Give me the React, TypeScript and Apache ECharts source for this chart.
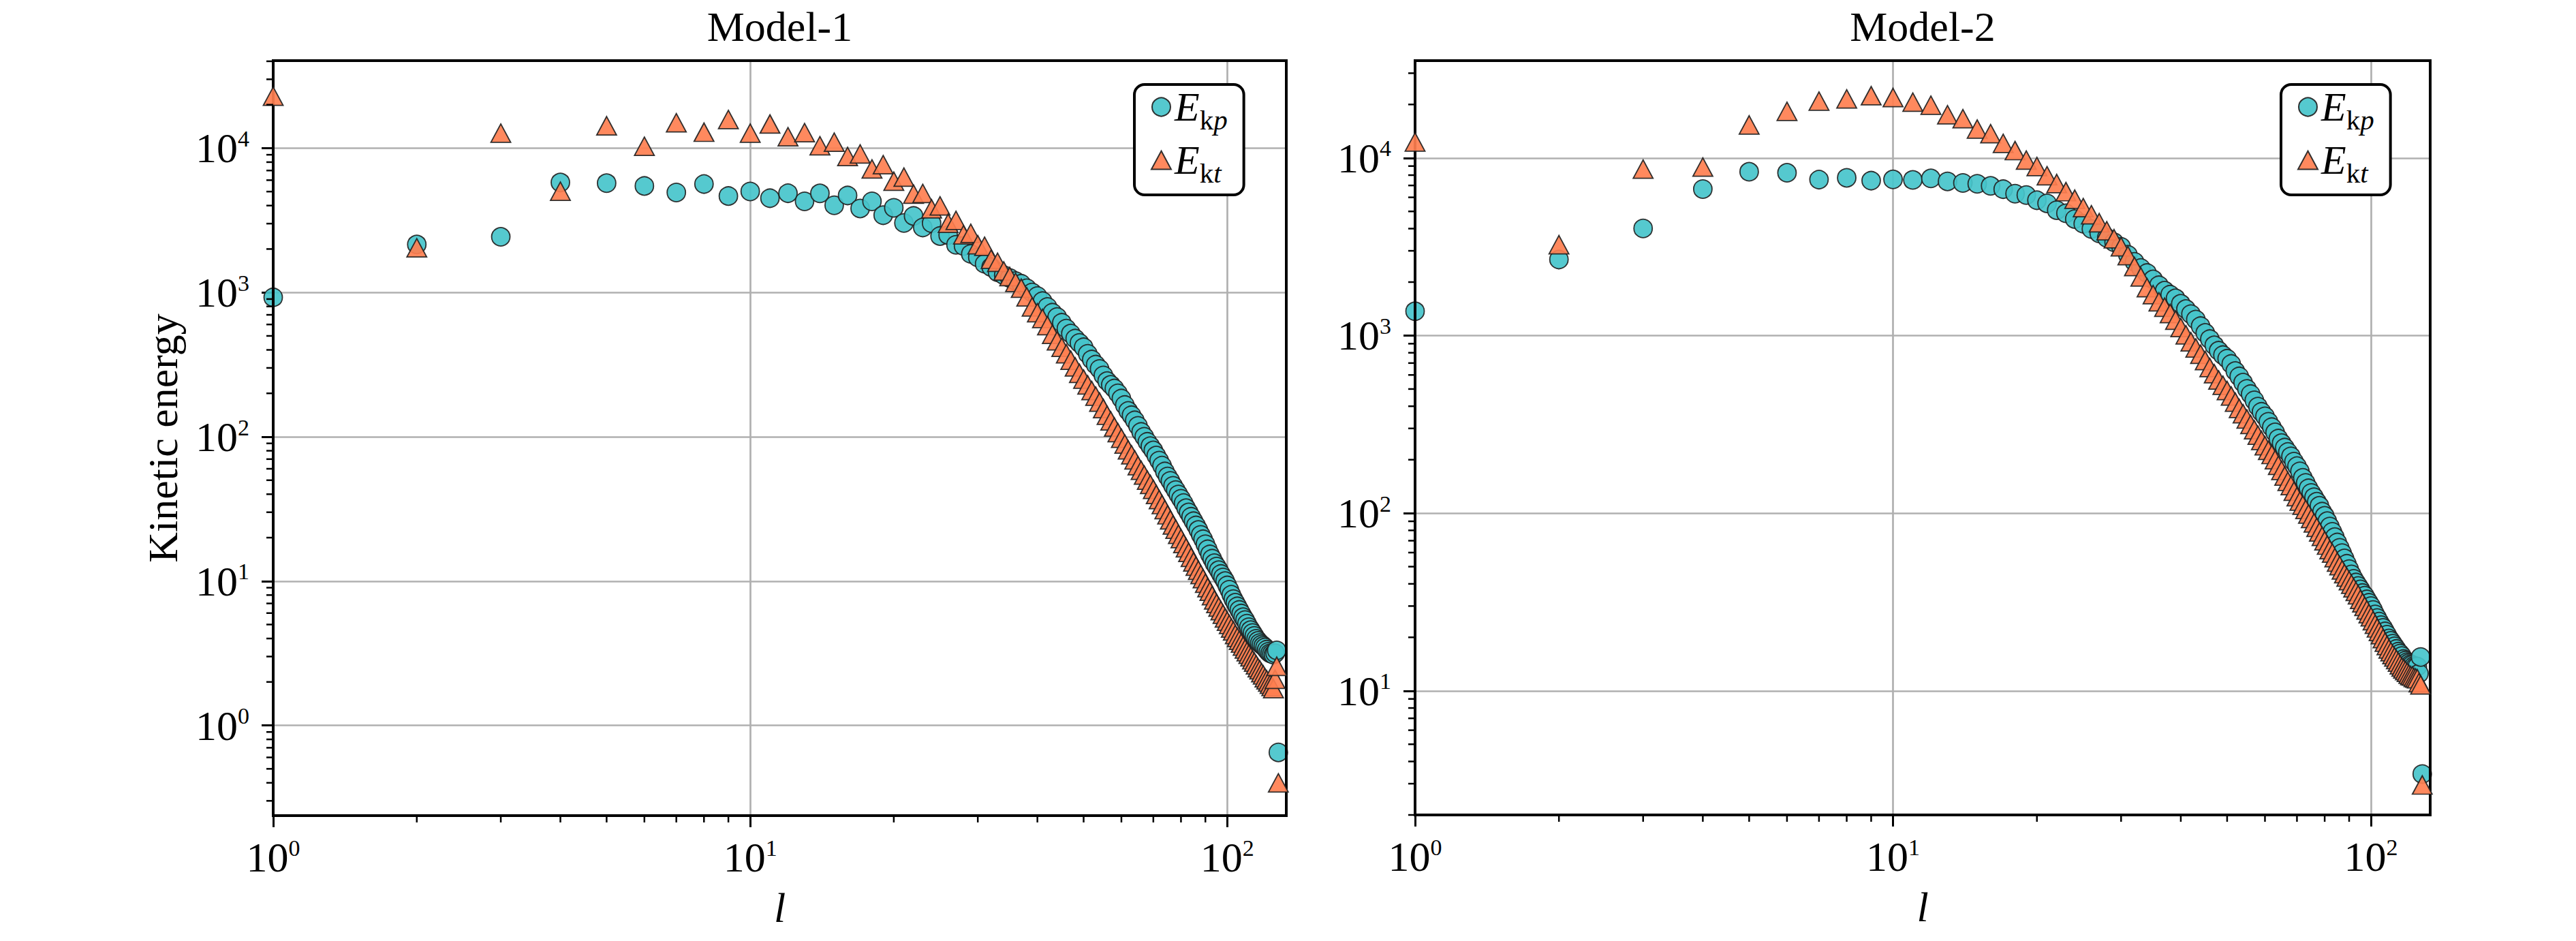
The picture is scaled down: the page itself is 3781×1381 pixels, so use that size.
import { useEffect, useRef } from 'react';
import * as echarts from 'echarts';

const FONT = '"Liberation Serif", "Times New Roman", serif';
const TEAL = '#47c4cb';
const CORAL = '#ff7f50';
const GRID_COLOR = '#b0b0b0';

// spherical harmonic degree l = 1..128
const degrees = Array.from({ length: 128 }, (_, i) => i + 1);

const panelTitles = ['Model-1', 'Model-2'];
const seriesNames = ['Ekp', 'Ekt'];

// one value per degree
const model1Ekp = [
  925, 2150, 2430, 5780, 5720, 5470, 4930, 5640, 4660, 5010,
  4500, 4870, 4280, 4860, 4020, 4700, 3820, 4280, 3430, 3860,
  3030, 3390, 2820, 3020, 2460, 2500, 2140, 2100, 1850, 1750,
  1580, 1500, 1380, 1320, 1260, 1200, 1150, 1070, 1000, 944,
  871, 794, 724, 676, 617, 562, 519, 479, 447, 417,
  376, 343, 316, 295, 266, 243, 229, 216, 200, 184,
  166, 151, 141, 130, 119, 108, 100, 92.3, 86.1, 80.4,
  74.1, 68.4, 63.1, 57.5, 53.1, 49.5, 45.7, 42.7, 39.8, 37.2,
  34.7, 32.0, 29.9, 27.9, 26.0, 24.3, 22.6, 20.9, 19.5, 18.0,
  16.6, 15.3, 14.3, 13.3, 12.6, 11.9, 11.2, 10.6, 10.0, 9.33,
  8.71, 8.04, 7.5, 7.08, 6.68, 6.31, 5.96, 5.62, 5.37, 5.07,
  4.79, 4.57, 4.37, 4.17, 3.98, 3.85, 3.72, 3.63, 3.55, 3.47,
  3.35, 3.24, 3.16, 3.13, 3.09, 3.16, 3.31, 0.65,
];

const model1Ekt = [
  22900, 2040, 12700, 5030, 14300, 10300, 15000, 12900, 15800, 12700,
  14700, 12000, 12800, 10400, 11000, 8750, 9120, 7180, 7690, 5900,
  6300, 4800, 4850, 3800, 3980, 3020, 3160, 2510, 2570, 2140,
  2090, 1700, 1620, 1410, 1290, 1175, 1070, 933, 794, 724,
  661, 589, 513, 462, 417, 376, 339, 305, 275, 251,
  229, 209, 191, 174, 157, 141, 129, 117, 107, 97.7,
  89.1, 81.3, 75.0, 69.2, 63.1, 58.6, 54.3, 50.1, 46.8, 43.2,
  39.8, 36.7, 33.9, 31.3, 28.8, 26.6, 24.5, 22.9, 21.1, 19.7,
  18.2, 17.0, 15.8, 14.6, 13.6, 12.7, 11.9, 11.1, 10.4, 9.66,
  9.02, 8.51, 7.94, 7.41, 7.0, 6.61, 6.24, 5.89, 5.56, 5.28,
  5.01, 4.73, 4.52, 4.27, 4.07, 3.89, 3.72, 3.55, 3.39, 3.24,
  3.11, 2.99, 2.85, 2.75, 2.63, 2.51, 2.43, 2.32, 2.24, 2.14,
  2.07, 2.0, 1.93, 1.86, 1.8, 2.09, 2.57, 0.4,
];

const model2Ekp = [
  1370, 2680, 4010, 6680, 8360, 8250, 7550, 7730, 7450, 7570,
  7520, 7670, 7380, 7230, 7150, 6960, 6670, 6290, 6180, 5780,
  5550, 5080, 4880, 4530, 4260, 3980, 3760, 3550, 3350, 3160,
  2850, 2600, 2400, 2250, 2070, 1920, 1790, 1700, 1620, 1510,
  1410, 1320, 1230, 1130, 1035, 955, 881, 822, 776, 741,
  692, 631, 589, 543, 501, 468, 432, 398, 372, 351,
  327, 305, 285, 263, 248, 234, 221, 209, 195, 184,
  172, 158, 148, 138, 130, 123, 116, 110, 102, 96.6,
  90.2, 84.1, 78.5, 73.3, 68.4, 63.8, 59.6, 55.6, 51.9, 48.4,
  45.2, 42.7, 40.7, 38.9, 37.2, 35.5, 34.3, 32.7, 31.3, 30.0,
  28.5, 26.9, 25.7, 24.5, 23.4, 22.6, 21.6, 20.7, 19.7, 19.1,
  18.4, 17.8, 17.2, 16.6, 16.2, 15.7, 15.1, 14.8, 14.5, 14.3,
  14.1, 14.0, 13.8, 13.7, 13.7, 12.5, 15.5, 3.4,
];

const model2Ekt = [
  12300, 3250, 8650, 8890, 15350, 18300, 20900, 21500, 22400, 21900,
  20600, 19800, 17500, 16650, 14550, 13700, 12080, 11000, 9730, 8940,
  7940, 7180, 6460, 5860, 5250, 4790, 4320, 3890, 3510, 3160,
  2820, 2450, 2140, 1860, 1700, 1550, 1445, 1330, 1220, 1110,
  1010, 923, 851, 785, 724, 661, 610, 562, 525, 490,
  457, 422, 389, 363, 339, 316, 295, 275, 257, 240,
  226, 214, 200, 186, 174, 162, 151, 143, 133, 124,
  117, 111, 105, 98.9, 93.3, 88.1, 83.2, 78.5, 74.1, 70.0,
  66.1, 62.4, 59.6, 56.2, 53.1, 50.7, 47.9, 45.7, 43.7, 41.7,
  39.8, 38.0, 36.3, 34.7, 32.7, 31.3, 29.9, 28.5, 27.2, 26.1,
  24.8, 23.7, 22.6, 21.6, 20.7, 19.7, 18.8, 18.0, 17.2, 16.6,
  16.0, 15.5, 15.0, 14.5, 14.0, 13.6, 13.3, 13.0, 12.7, 12.4,
  12.2, 12.1, 11.9, 11.8, 11.7, 11.1, 10.8, 2.95,
];

// axis ranges and decade ticks
const X_MIN = 1;
const X_MAX = 133;
const xMajorTicks = [1, 10, 100];
const yRanges = [
  [0.237, 40400],
  [2.0, 35300],
];
const yMajorTicks = [
  [1, 10, 100, 1000, 10000],
  [10, 100, 1000, 10000],
];

const grids = [
  { left: 401, top: 89, width: 1487, height: 1108 },
  { left: 2077, top: 89, width: 1490, height: 1107 },
];

const MAJOR_LEN = 17;
const MINOR_LEN = 10;

function minorTicks(min: number, max: number) {
  const out: number[] = [];
  for (let k = Math.floor(Math.log10(min)) - 1; k <= Math.ceil(Math.log10(max)); k++) {
    for (let m = 2; m <= 9; m++) {
      const v = m * Math.pow(10, k);
      if (v >= min && v <= max) out.push(v);
    }
  }
  return out;
}

const powerLabel = (value: number) => `{b|10}{s|${Math.round(Math.log10(value))}}`;
const powerRich = {
  b: { fontFamily: FONT, fontSize: 62, color: '#000' },
  s: { fontFamily: FONT, fontSize: 34, color: '#000', verticalAlign: 'top' },
};

const legendRich = {
  e: { fontFamily: FONT, fontStyle: 'italic', fontSize: 60, color: '#000' },
  s: { fontFamily: FONT, fontSize: 41, color: '#000', verticalAlign: 'top', padding: [37, 0, 0, 0] },
  i: { fontFamily: FONT, fontStyle: 'italic', fontSize: 41, color: '#000', verticalAlign: 'top', padding: [37, 0, 0, 0] },
};

export default function App() {
  const chartRef = useRef<HTMLDivElement>(null);

  useEffect(() => {
    if (!chartRef.current) return;
    const chart = echarts.init(chartRef.current, undefined, { renderer: 'svg' });

    const models = [
      [model1Ekp, model1Ekt],
      [model2Ekp, model2Ekt],
    ];

    const xAxes = grids.map((_, i) => ({
      type: 'log',
      logBase: 10,
      gridIndex: i,
      min: X_MIN,
      max: X_MAX,
      name: 'l',
      nameLocation: 'middle',
      nameGap: 104,
      nameTextStyle: { fontFamily: FONT, fontStyle: 'italic', fontSize: 62, color: '#000' },
      axisLine: { show: false },
      axisTick: {
        show: true,
        length: MAJOR_LEN,
        customValues: xMajorTicks,
        lineStyle: { color: '#000', width: 3 },
      },
      axisLabel: {
        customValues: xMajorTicks,
        margin: 30,
        formatter: powerLabel,
        rich: powerRich,
      },
      splitLine: { show: true, lineStyle: { color: GRID_COLOR, width: 2.7 } },
    }));

    const yAxes = grids.map((_, i) => ({
      type: 'log',
      logBase: 10,
      gridIndex: i,
      min: yRanges[i][0],
      max: yRanges[i][1],
      name: i === 0 ? 'Kinetic energy' : '',
      nameLocation: 'middle',
      nameGap: 131,
      nameTextStyle: { fontFamily: FONT, fontSize: 62, color: '#000' },
      axisLine: { show: false },
      axisTick: {
        show: true,
        length: MAJOR_LEN,
        customValues: yMajorTicks[i],
        lineStyle: { color: '#000', width: 3 },
      },
      axisLabel: {
        customValues: yMajorTicks[i],
        margin: 35,
        formatter: powerLabel,
        rich: powerRich,
      },
      splitLine: { show: true, lineStyle: { color: GRID_COLOR, width: 2.7 } },
    }));

    const scatterSeries: any[] = [];
    models.forEach((pair, gi) => {
      pair.forEach((values, si) => {
        scatterSeries.push({
          name: seriesNames[si],
          type: 'scatter',
          xAxisIndex: gi,
          yAxisIndex: gi,
          symbol: si === 0 ? 'circle' : 'triangle',
          symbolSize: si === 0 ? 27 : [29, 27],
          data: degrees.map((l, k) => [l, values[k]]),
          itemStyle: {
            color: si === 0 ? TEAL : CORAL,
            borderColor: '#222',
            borderWidth: 1.8,
            opacity: 0.92,
          },
          z: 2 + si,
        });
      });
    });

    // minor ticks at 2..9 x 10^k, which the log axis does not draw itself
    const tickSeries: any[] = [];
    grids.forEach((_, gi) => {
      tickSeries.push({
        type: 'custom',
        xAxisIndex: gi,
        yAxisIndex: gi,
        silent: true,
        clip: false,
        z: 4,
        data: minorTicks(yRanges[gi][0], yRanges[gi][1]).map(v => [X_MIN, v]),
        renderItem: (params: any, api: any) => {
          const p = api.coord([api.value(0), api.value(1)]);
          const x0 = params.coordSys.x;
          return {
            type: 'line',
            shape: { x1: x0 - MINOR_LEN, y1: p[1], x2: x0, y2: p[1] },
            style: { stroke: '#000', lineWidth: 2.5 },
          };
        },
      });
      tickSeries.push({
        type: 'custom',
        xAxisIndex: gi,
        yAxisIndex: gi,
        silent: true,
        clip: false,
        z: 4,
        data: minorTicks(X_MIN, X_MAX).map(v => [v, yRanges[gi][0]]),
        renderItem: (params: any, api: any) => {
          const p = api.coord([api.value(0), api.value(1)]);
          const y0 = params.coordSys.y + params.coordSys.height;
          return {
            type: 'line',
            shape: { x1: p[0], y1: y0, x2: p[0], y2: y0 + MINOR_LEN },
            style: { stroke: '#000', lineWidth: 2.5 },
          };
        },
      });
    });

    chart.setOption({
      animation: false,
      backgroundColor: '#fff',
      textStyle: { fontFamily: FONT },
      title: grids.map((g, i) => ({
        text: panelTitles[i],
        left: g.left + g.width / 2,
        top: 8,
        textAlign: 'center',
        padding: 0,
        textStyle: { fontFamily: FONT, fontSize: 62, fontWeight: 'normal', color: '#000' },
      })),
      legend: grids.map((g, i) => ({
        data: seriesNames,
        orient: 'vertical',
        left: i === 0 ? 1665 : 3348,
        top: 124,
        padding: [3, 24, 12, 24],
        itemGap: 9,
        itemWidth: 29,
        itemHeight: 27,
        backgroundColor: '#fff',
        borderColor: '#000',
        borderWidth: 4,
        borderRadius: 15,
        selectedMode: false,
        formatter: (name: string) => (name === 'Ekp' ? '{e|E}{s|k}{i|p}' : '{e|E}{s|k}{i|t}'),
        textStyle: { color: '#000', fontFamily: FONT, rich: legendRich },
        z: 10,
      })),
      grid: grids.map(g => ({
        ...g,
        show: true,
        borderColor: '#000',
        borderWidth: 4,
        backgroundColor: 'transparent',
        z: 3,
      })),
      xAxis: xAxes,
      yAxis: yAxes,
      series: [...scatterSeries, ...tickSeries],
    });

    return () => {
      chart.dispose();
    };
  }, []);

  return (
    <div
      ref={chartRef}
      style={{ position: 'absolute', left: 0, top: 0, width: 3781, height: 1381, background: '#fff' }}
    />
  );
}
